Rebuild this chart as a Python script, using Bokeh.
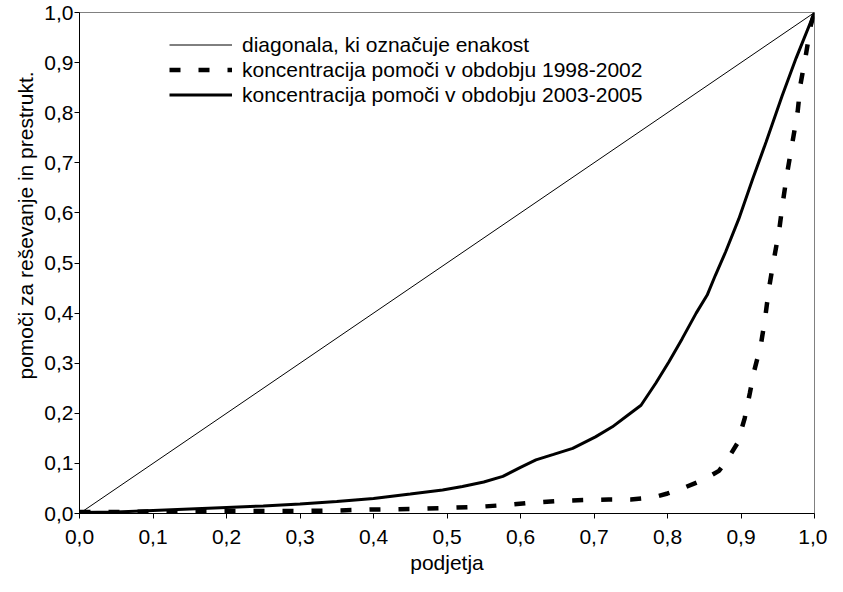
from bokeh.plotting import figure
from bokeh.models import Range1d, FixedTicker, Legend, LegendItem, Title
from bokeh.embed import file_html
from bokeh.resources import INLINE

# ---- data ----
tick_values = [0.0, 0.1, 0.2, 0.3, 0.4, 0.5, 0.6, 0.7, 0.8, 0.9, 1.0]
tick_labels = ["0,0", "0,1", "0,2", "0,3", "0,4", "0,5", "0,6", "0,7", "0,8", "0,9", "1,0"]

diag_x = [0.0, 1.0]
diag_y = [0.0, 1.0]

x_9802 = [0.00, 0.05, 0.10, 0.15, 0.20, 0.25, 0.30, 0.35, 0.40, 0.45, 0.50, 0.55,
          0.59, 0.61, 0.65, 0.69, 0.72, 0.75, 0.78, 0.80, 0.82, 0.85, 0.87, 0.88,
          0.895, 0.905, 0.912, 0.918, 0.927, 0.933, 0.938, 0.945, 0.952, 0.957,
          0.963, 0.970, 0.977, 0.981, 0.988, 0.995, 1.0]
y_9802 = [0.003, 0.003, 0.004, 0.004, 0.005, 0.005, 0.005, 0.006, 0.008, 0.009, 0.011, 0.014,
          0.018, 0.021, 0.025, 0.027, 0.028, 0.028, 0.032, 0.040, 0.050, 0.068, 0.085, 0.104,
          0.140, 0.190, 0.240, 0.285, 0.336, 0.392, 0.449, 0.509, 0.566, 0.622,
          0.681, 0.741, 0.801, 0.857, 0.913, 0.975, 1.0]

x_0305 = [0.00, 0.05, 0.10, 0.15, 0.20, 0.25, 0.30, 0.35, 0.40, 0.45, 0.494, 0.521,
          0.55, 0.576, 0.60, 0.621, 0.645, 0.671, 0.702, 0.725, 0.745, 0.764, 0.784,
          0.802, 0.820, 0.839, 0.854, 0.865, 0.879, 0.897, 0.916, 0.934, 0.956, 0.975, 1.0]
y_0305 = [0.002, 0.003, 0.006, 0.009, 0.012, 0.015, 0.019, 0.024, 0.030, 0.039, 0.047, 0.054,
          0.063, 0.074, 0.092, 0.107, 0.118, 0.130, 0.153, 0.173, 0.195, 0.216, 0.260,
          0.303, 0.349, 0.400, 0.436, 0.475, 0.522, 0.588, 0.668, 0.741, 0.834, 0.909, 1.0]

legend_labels = ["diagonala, ki označuje enakost",
                 "koncentracija pomoči v obdobju 1998-2002",
                 "koncentracija pomoči v obdobju 2003-2005"]
x_title = "podjetja"
y_title = "pomoči za reševanje in prestrukt."

FONT = "Liberation Sans"
FS = "21px"

p = figure(width=827, height=576, output_backend="svg", toolbar_location=None,
           x_range=Range1d(0, 1), y_range=Range1d(0, 1),
           min_border_left=79, min_border_right=13, min_border_top=12, min_border_bottom=62)
p.grid.visible = False
p.background_fill_color = "white"
p.border_fill_color = "white"
p.outline_line_color = "#808080"
p.outline_line_width = 1

for ax in (p.xaxis[0], p.yaxis[0]):
    ax.ticker = FixedTicker(ticks=tick_values)
    ax.major_label_overrides = {v: s for v, s in zip(tick_values, tick_labels)}
    ax.minor_tick_line_color = None
    ax.major_tick_in = 0
    ax.major_tick_out = 5
    ax.axis_line_color = "black"
    ax.major_tick_line_color = "black"
    ax.major_label_text_font = FONT
    ax.major_label_text_font_size = FS
    ax.major_label_text_color = "black"
    ax.axis_label_text_font = FONT
    ax.axis_label_text_font_size = FS
    ax.axis_label_text_font_style = "normal"
    ax.axis_label_text_color = "black"

p.xaxis.axis_label = x_title
p.xaxis.major_label_standoff = 11
p.yaxis.major_label_standoff = 1
p.xaxis.axis_label_standoff = 4

# y title placed like the original (shifted toward the top of the plot area)
ytitle = Title(text=y_title, align="left", offset=134, vertical_align="middle",
               text_font=FONT, text_font_size=FS, text_font_style="normal",
               text_color="black", standoff=8)
p.add_layout(ytitle, "left")

r_diag = p.line(diag_x, diag_y, line_color="black", line_width=1)
r_9802 = p.line(x_9802, y_9802, line_color="black", line_width=4.5, line_dash="11 18")
r_0305 = p.line(x_0305, y_0305, line_color="black", line_width=3)

legend = Legend(items=[LegendItem(label=legend_labels[0], renderers=[r_diag]),
                       LegendItem(label=legend_labels[1], renderers=[r_9802]),
                       LegendItem(label=legend_labels[2], renderers=[r_0305])],
                location=(90, 406), padding=0, margin=0, spacing=0,
                glyph_width=63, glyph_height=25, label_height=25, label_standoff=10,
                label_text_font=FONT, label_text_font_size=FS, label_text_color="black",
                border_line_alpha=0, background_fill_alpha=0)
p.add_layout(legend)

open("out.html", "w").write(file_html(p, INLINE))
